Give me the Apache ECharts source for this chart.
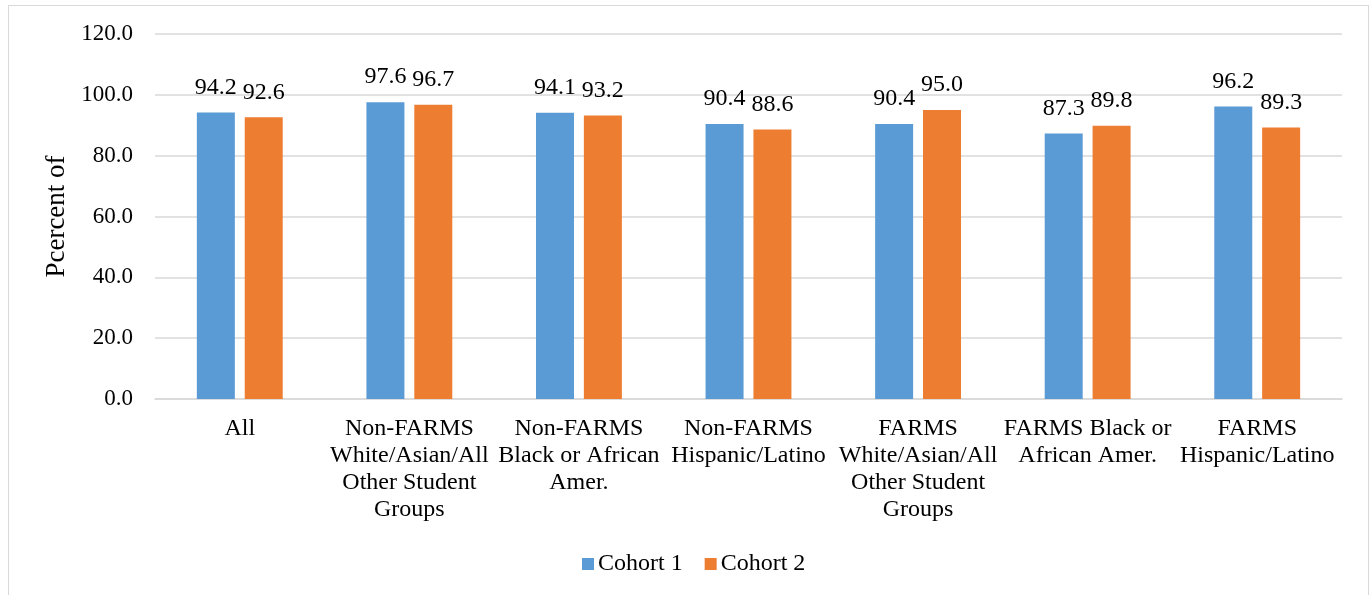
<!DOCTYPE html>
<html>
<head>
<meta charset="utf-8">
<script src="https://cdn.jsdelivr.net/npm/echarts@6/dist/echarts.min.js"></script>
<style>
  html, body { margin: 0; padding: 0; background: #fff; }
  #frame { position: absolute; left: 8px; top: 5px; width: 1361px; height: 600px; border: 1px solid #d9d9d9; box-sizing: border-box; }
  #chart { position: absolute; left: 0; top: 0; width: 1372px; height: 595px; }
</style>
</head>
<body>
<div id="frame"></div>
<div id="chart"></div>
<script>
const categories = [
  'All',
  'Non-FARMS\nWhite/Asian/All\nOther Student\nGroups',
  'Non-FARMS\nBlack or African\nAmer.',
  'Non-FARMS\nHispanic/Latino',
  'FARMS\nWhite/Asian/All\nOther Student\nGroups',
  'FARMS Black or\nAfrican Amer.',
  'FARMS\nHispanic/Latino'
];
const cohort1 = [94.2, 97.6, 94.1, 90.4, 90.4, 87.3, 96.2];
const cohort2 = [92.6, 96.7, 93.2, 88.6, 95.0, 89.8, 89.3];
const yTicks = { min: 0, max: 120, interval: 20 };

const font = '"Liberation Serif", "Times New Roman", serif';
const chart = echarts.init(document.getElementById('chart'));

const labelStyle = {
  show: true,
  position: 'top',
  distance: 13,
  fontFamily: font,
  fontSize: 24,
  color: '#000',
  formatter: p => p.value.toFixed(1)
};

chart.setOption({
  animation: false,
  textStyle: { fontFamily: font },
  grid: { left: 155, right: 30, top: 34, bottom: 196 },
  legend: {
    bottom: 14,
    left: 577,
    itemWidth: 12,
    itemHeight: 12,
    itemGap: 22,
    icon: 'rect',
    textStyle: { fontFamily: font, fontSize: 24, color: '#000', padding: [0, 0, 0, -1] },
    data: ['Cohort 1', 'Cohort 2']
  },
  xAxis: {
    type: 'category',
    data: categories,
    axisLine: { lineStyle: { color: '#d9d9d9', width: 1.5 } },
    axisTick: { show: false },
    axisLabel: {
      interval: 0,
      margin: 16,
      fontFamily: font,
      fontSize: 24,
      color: '#000',
      lineHeight: 27
    }
  },
  yAxis: {
    type: 'value',
    min: yTicks.min,
    max: yTicks.max,
    interval: yTicks.interval,
    name: 'Pcercent of',
    nameLocation: 'middle',
    nameGap: 84,
    nameTextStyle: { fontFamily: font, fontSize: 27, color: '#000' },
    axisLine: { show: false },
    axisTick: { show: false },
    splitLine: { lineStyle: { color: '#d9d9d9', width: 1.5 } },
    axisLabel: {
      margin: 22,
      fontFamily: font,
      fontSize: 23,
      color: '#000',
      formatter: v => v.toFixed(1)
    }
  },
  series: [
    {
      name: 'Cohort 1',
      type: 'bar',
      data: cohort1,
      barWidth: 38,
      barGap: '26%',
      itemStyle: { color: '#5b9bd5' },
      label: labelStyle
    },
    {
      name: 'Cohort 2',
      type: 'bar',
      data: cohort2,
      barWidth: 38,
      itemStyle: { color: '#ed7d31' },
      label: labelStyle
    }
  ]
});
</script>
</body>
</html>
